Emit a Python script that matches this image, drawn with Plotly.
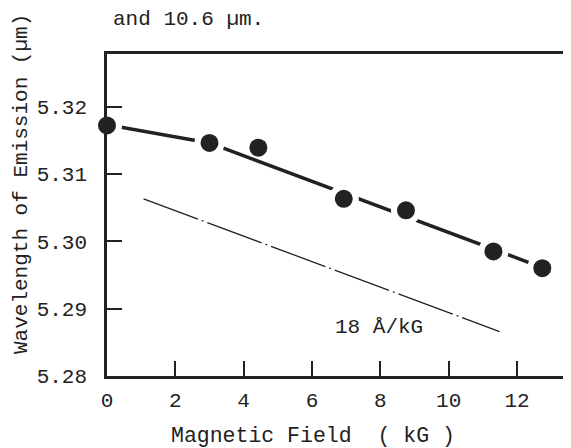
import plotly.graph_objects as go

# Data
field_kG = [0.0, 3.0, 4.43, 6.93, 8.75, 11.31, 12.74]
wavelength_um = [5.3172, 5.3146, 5.3139, 5.3063, 5.3046, 5.2985, 5.2960]

fit_x = [0.0, 3.0, 12.74]
fit_y = [5.3173, 5.3146, 5.2961]

ref_x = [1.07, 11.49]
ref_y = [5.3063, 5.2866]

x_ticks = [0, 2, 4, 6, 8, 10, 12]
y_ticks = [5.28, 5.29, 5.30, 5.31, 5.32]
y_labels = ["5.28", "5.29", "5.30", "5.31", "5.32"]

FONT = "Liberation Mono, Courier New, monospace"
INK = "#222222"
FS = 21

# the page body has an 8px default margin, so work in page pixels minus 8
OFF = 8
W, H = 571 - OFF, 448 - OFF
L, R, T, B = 107 - OFF, 0, 54 - OFF, 448 - 376
pw, ph = W - L - R, H - T - B

fig = go.Figure()
fig.add_trace(go.Scatter(x=ref_x, y=ref_y, mode="lines",
                         line=dict(color=INK, width=1.3, dash="58px,4px,2px,4px"),
                         hoverinfo="skip", showlegend=False))
fig.add_trace(go.Scatter(x=fit_x, y=fit_y, mode="lines",
                         line=dict(color=INK, width=3.5),
                         showlegend=False))
gap = [6, 6, 0, 6, 6, 6, 6]
fig.add_trace(go.Scatter(x=field_kG, y=wavelength_um, mode="markers", opacity=1,
                         marker=dict(color=INK, opacity=1, size=[18 + g for g in gap],
                                     line=dict(color="white", width=gap)),
                         cliponaxis=False, showlegend=False))


def px(xp, yp):
    xp -= OFF
    yp -= OFF
    return (xp - L) / pw, (H - B - yp) / ph


def note(text, xp, yp, angle=0, size=FS):
    ax, ay = px(xp, yp)
    fig.add_annotation(text=text, x=ax, y=ay, xref="paper", yref="paper",
                       xanchor="center", yanchor="middle",
                       textangle=angle, showarrow=False,
                       font=dict(family=FONT, size=size, color=INK))


note("18 Å/kG", 379, 327)
note("and 10.6 µm.", 188, 20)
note("Wavelength of Emission (µm)", 21, 184, -90)
note("Magnetic Field  ( kG )", 313, 436, size=21.5)

fig.update_layout(
    width=W, height=H,
    margin=dict(l=L, r=R, t=T, b=B, autoexpand=False),
    paper_bgcolor="white", plot_bgcolor="white",
    font=dict(family=FONT, size=FS, color=INK),
    xaxis=dict(range=[0, 13.58], tickvals=x_ticks, ticks="inside", ticklen=15,
               tickwidth=2, tickcolor=INK, showline=True, linewidth=2.5, linecolor=INK,
               mirror=True, showgrid=False, zeroline=False, ticklabelstandoff=3),
    yaxis=dict(range=[5.28, 5.3278], tickvals=y_ticks, ticktext=y_labels, ticks="inside",
               ticklen=15, tickwidth=2, tickcolor=INK, showline=True, linewidth=2.5,
               linecolor=INK, showgrid=False, zeroline=False, ticklabelstandoff=13),
)

fig.write_html("out.html")
